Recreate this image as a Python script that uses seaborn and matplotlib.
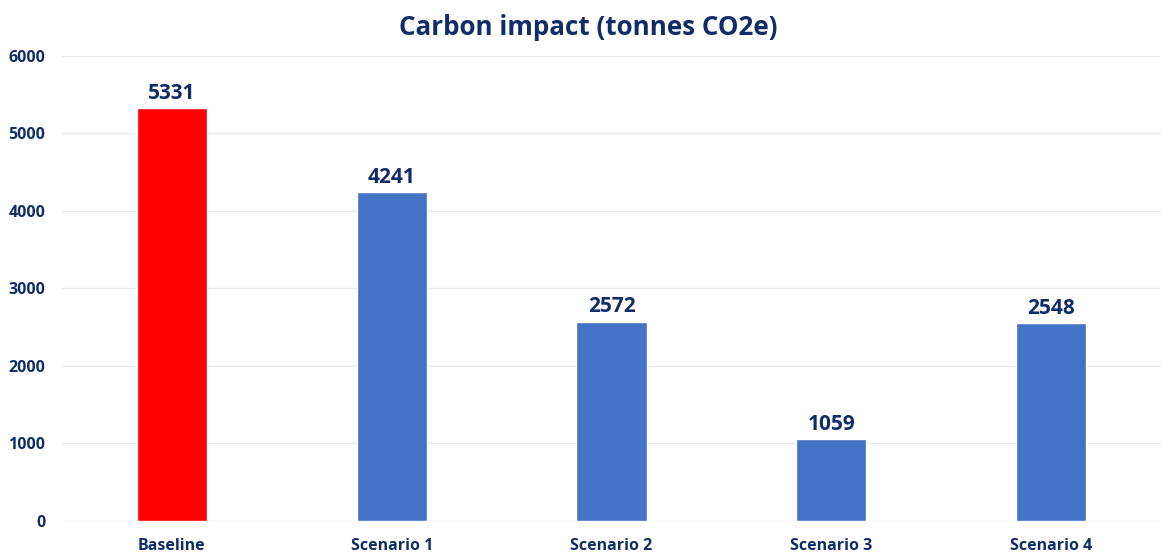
import pandas as pd
import matplotlib.pyplot as plt
import seaborn as sns

# values
categories = ['Baseline', 'Scenario 1', 'Scenario 2', 'Scenario 3', 'Scenario 4']
carbon_tonnes = [5331, 4241, 2572, 1059, 2548]
bar_colors = ['#FF0000', '#4472C4', '#4472C4', '#4472C4', '#4472C4']
y_ticks = [0, 1000, 2000, 3000, 4000, 5000, 6000]

NAVY = '#112D68'

sns.set_theme(style='white')
plt.rcParams['font.family'] = ['Open Sans', 'DejaVu Sans']

df = pd.DataFrame({'scenario': categories, 'tonnes': carbon_tonnes})

fig = plt.figure(figsize=(11.61, 5.54), dpi=100)
ax = fig.add_axes([0.0534, 0.0596, 0.9466, 0.8394])

sns.barplot(data=df, x='scenario', y='tonnes', hue='scenario',
            palette=dict(zip(categories, bar_colors)), width=0.32,
            legend=False, saturation=1, ax=ax)

ax.set_xlim(-0.5, 4.5)
ax.set_ylim(0, 6000)
ax.set_yticks(y_ticks)
ax.yaxis.grid(True, color='#E8E8E8', linewidth=1)
ax.set_axisbelow(True)
for s in ax.spines.values():
    s.set_visible(False)
ax.tick_params(axis='both', length=0, labelsize=11.5, labelcolor=NAVY)
ax.tick_params(axis='y', pad=12)
ax.tick_params(axis='x', pad=12)
for lbl in ax.get_xticklabels() + ax.get_yticklabels():
    lbl.set_fontweight('bold')
ax.set_xlabel('')
ax.set_ylabel('')

for cont in ax.containers:
    ax.bar_label(cont, fmt='%d', padding=3, fontsize=15, fontweight='bold', color=NAVY)

fig.text(0.507, 0.950, 'Carbon impact (tonnes CO2e)', ha='center', va='center',
         fontsize=18.7, fontweight='bold', color=NAVY)

fig.savefig('out.png', dpi=100)
